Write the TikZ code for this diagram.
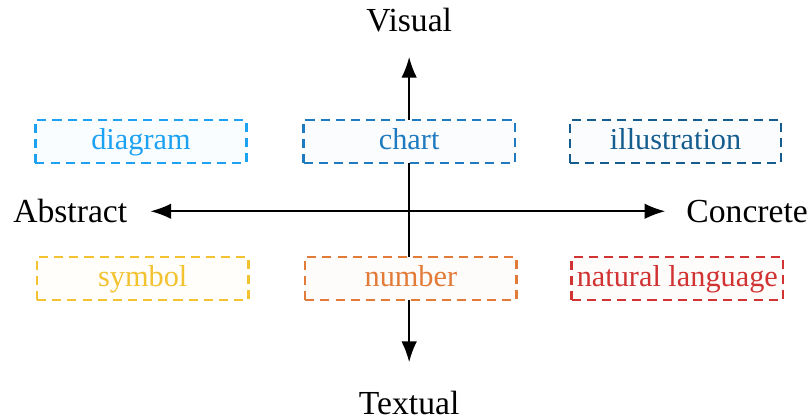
\documentclass[tikz,border=0pt]{standalone}
\usepackage{fontspec}
\setmainfont{Liberation Serif}
\usepackage{tikz}
\usetikzlibrary{arrows.meta, positioning, calc}

\definecolor{diagcol}{HTML}{1DA1F2}
\definecolor{chartcol}{HTML}{1F7BC0}
\definecolor{illucol}{HTML}{155D8E}
\definecolor{symbcol}{HTML}{F2C230}
\definecolor{numbcol}{HTML}{E27A38}
\definecolor{natcol}{HTML}{D13232}

\begin{document}
\begin{tikzpicture}[
    axis/.style={-{Latex[length=2.4mm, width=1.8mm]}, semithick},
    axislabel/.style={font=\fontsize{11.1}{13}\selectfont},
    modality/.style={rectangle, draw=#1, text=#1, fill=#1!2, densely dashed, thick, minimum width=2.45cm, minimum height=0.5cm, text height=1.6ex, text depth=0.45ex, font=\fontsize{10}{12}\selectfont, inner sep=1pt}
]
\useasboundingbox (-4.745,-2.42) rectangle (4.66,2.45);

% Axes
\coordinate (o) at (0,0);
\coordinate (top) at (0,1.79);
\coordinate (bottom) at (0,-1.75);
\coordinate (left) at (-3.0,0);
\coordinate (right) at (2.97,0);
\draw[axis] (o) -- (top);
\draw[axis] (o) -- (bottom);
\draw[axis] (o) -- (left);
\draw[axis] (o) -- (right);

\node[axislabel] (visual) at (0,2.22) {Visual};
\node[axislabel] (textual) at (0,-2.22) {Textual};
\node[axislabel] (abstract) at (-3.93,0) {Abstract};
\node[axislabel] (concrete) at (3.92,0) {Concrete};

% Modalities
\node[modality=diagcol] (diagram) at (-3.11,0.81) {diagram};
\node[modality=chartcol] (chart) at (0,0.81) {chart};
\node[modality=illucol] (illustration) at (3.09,0.81) {illustration};

\node[modality=symbcol] (symbol) at (-3.09,-0.78) {symbol};
\node[modality=numbcol] (number) at (0.02,-0.78) {number};
\node[modality=natcol] (natlang) at (3.11,-0.78) {natural language};
\end{tikzpicture}
\end{document}
